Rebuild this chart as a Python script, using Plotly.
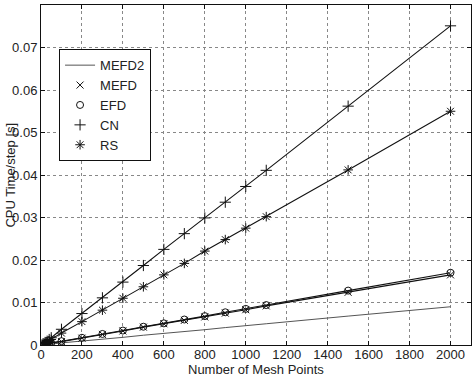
import plotly.graph_objects as go

mesh_points = [10, 20, 30, 40, 50, 100, 200, 300, 400, 500, 600, 700, 800, 900, 1000, 1100, 1500, 2000]

cn   = [0.0003, 0.0006, 0.0009, 0.0013, 0.0017, 0.0037, 0.0074, 0.0111, 0.0148, 0.0187, 0.0225, 0.0262, 0.0299, 0.0336, 0.0373, 0.0411, 0.0562, 0.0751]
rs   = [0.0002, 0.0005, 0.0007, 0.0010, 0.0013, 0.0028, 0.0055, 0.0082, 0.0110, 0.0137, 0.0165, 0.0192, 0.0221, 0.0248, 0.0275, 0.0302, 0.0412, 0.0550]
efd  = [0.0002, 0.0003, 0.0004, 0.0005, 0.0005, 0.0009, 0.0017, 0.0026, 0.0034, 0.0043, 0.0051, 0.0060, 0.0068, 0.0077, 0.0085, 0.0094, 0.0128, 0.0170]
mefd = [0.0001, 0.0002, 0.0003, 0.0004, 0.0005, 0.0008, 0.0016, 0.0025, 0.0033, 0.0042, 0.0050, 0.0058, 0.0066, 0.0075, 0.0083, 0.0092, 0.0124, 0.0165]
mefd2 = [0.0001, 0.0001, 0.0001, 0.0002, 0.0002, 0.0005, 0.0009, 0.0014, 0.0018, 0.0023, 0.0027, 0.0032, 0.0036, 0.0041, 0.0045, 0.0050, 0.0068, 0.0090]

x_ticks = [0, 200, 400, 600, 800, 1000, 1200, 1400, 1600, 1800, 2000]
y_ticks = [0, 0.01, 0.02, 0.03, 0.04, 0.05, 0.06, 0.07, 0.08]
y_tick_labels = ["0", "0.01", "0.02", "0.03", "0.04", "0.05", "0.06", "0.07", "0.08"]

FONT = "Liberation Sans, Arial, sans-serif"
INK = "#111111"

fig = go.Figure()

# connecting lines (not in legend)
for ys in [mefd, efd, cn, rs]:
    fig.add_trace(go.Scatter(x=mesh_points, y=ys, mode="lines",
                             line=dict(color=INK, width=1.1), showlegend=False,
                             hoverinfo="skip"))

fig.add_trace(go.Scatter(x=mesh_points, y=mefd2, mode="lines", name="MEFD2",
                         line=dict(color="#555555", width=1)))
fig.add_trace(go.Scatter(x=mesh_points, y=mefd, mode="markers", name="MEFD",
                         marker=dict(symbol="x-thin-open", size=7, color=INK,
                                     line=dict(width=1, color=INK))))
fig.add_trace(go.Scatter(x=mesh_points, y=efd, mode="markers", name="EFD",
                         marker=dict(symbol="circle-open", size=7, color=INK,
                                     line=dict(width=1, color=INK))))
fig.add_trace(go.Scatter(x=mesh_points, y=cn, mode="markers", name="CN",
                         marker=dict(symbol="cross-thin-open", size=8, color=INK,
                                     line=dict(width=1, color=INK))))
fig.add_trace(go.Scatter(x=mesh_points, y=rs, mode="markers", name="RS",
                         marker=dict(symbol="asterisk-open", size=8, color=INK,
                                     line=dict(width=1, color=INK))))

axis_common = dict(
    showgrid=True, gridcolor="#888888", griddash="dot", gridwidth=1,
    showline=True, linecolor=INK, linewidth=1, mirror="ticks",
    ticks="inside", ticklen=4, tickcolor=INK,
    zeroline=False, automargin=False,
    tickfont=dict(family=FONT, size=13, color="#222222"),
)

fig.update_layout(
    width=474, height=376,
    margin=dict(l=41, r=3, t=5, b=31),
    paper_bgcolor="white", plot_bgcolor="white",
    font=dict(family=FONT, size=13, color="#222222"),
    xaxis=dict(range=[0, 2100], tickvals=x_ticks, ticklabelstandoff=-3, **axis_common),
    yaxis=dict(range=[0, 0.08], tickvals=y_ticks, ticktext=y_tick_labels, **axis_common),
    legend=dict(x=0.042, y=0.87, xanchor="left", yanchor="top",
                bgcolor="white", bordercolor=INK, borderwidth=1,
                font=dict(size=13), itemwidth=30),
    showlegend=True,
    annotations=[
        dict(text="Number of Mesh Points", xref="paper", yref="paper",
             x=0.5, y=-0.071, xanchor="center", yanchor="middle",
             showarrow=False, font=dict(family=FONT, size=13, color="#222222")),
        dict(text="CPU Time/step [s]", xref="paper", yref="paper",
             x=-0.073, y=0.5, xanchor="center", yanchor="middle", textangle=-90,
             showarrow=False, font=dict(family=FONT, size=13, color="#222222")),
    ],
)

fig.write_html("out.html", config={"displayModeBar": False},
               post_script="document.body.style.margin='0';document.body.style.overflow='hidden';")
